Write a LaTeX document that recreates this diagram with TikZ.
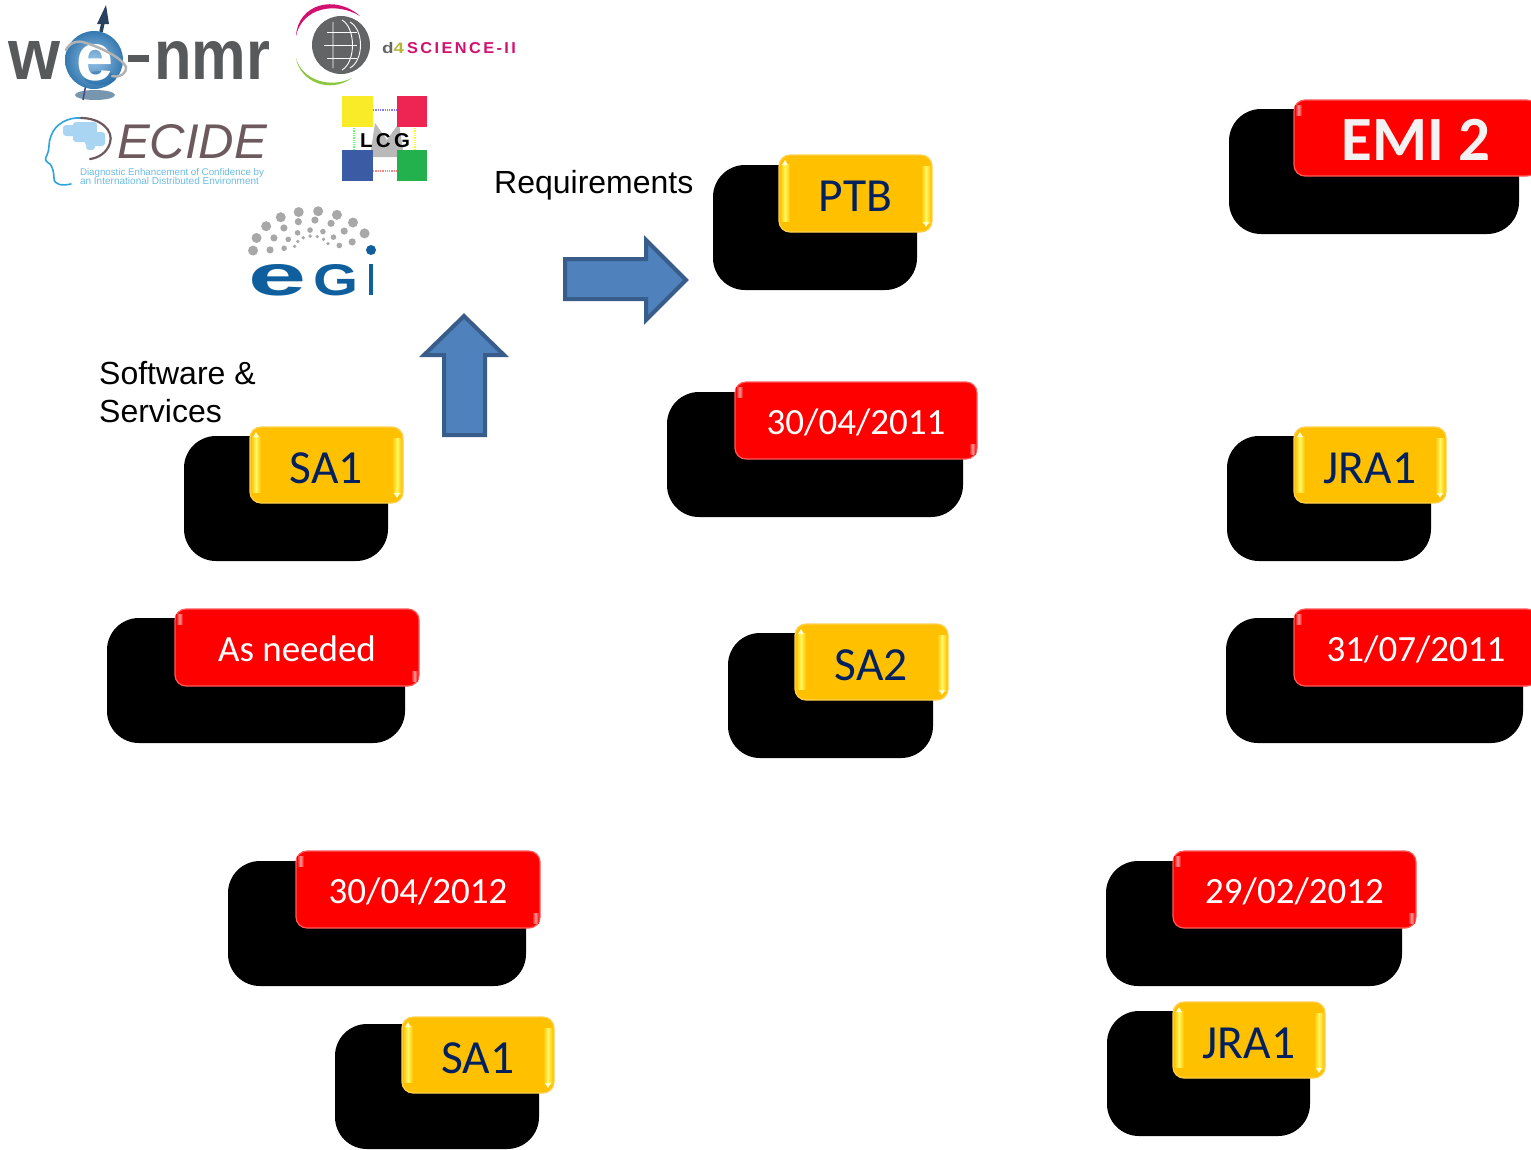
\documentclass[tikz,border=0pt]{standalone}
\usepackage{fontspec}
\usetikzlibrary{calc}
\setmainfont{Liberation Sans}
\newfontfamily\calibrifont{Carlito}
\definecolor{navy}{HTML}{002060}
\definecolor{amber}{HTML}{FFC000}
\definecolor{amberedge}{HTML}{FFD050}
\definecolor{amberglow}{HTML}{FFF860}
\definecolor{redbox}{HTML}{FF0000}
\definecolor{rededge}{HTML}{FF5A5A}
\definecolor{redglow}{HTML}{FF9A9A}
\definecolor{arrowfill}{HTML}{4F81BD}
\definecolor{arrowline}{HTML}{385D8A}
\definecolor{nmrgray}{HTML}{58595B}
\definecolor{globeblue}{HTML}{3F8FD0}
\definecolor{dgray}{HTML}{636466}
\definecolor{dpink}{HTML}{D3106F}
\definecolor{dgreen}{HTML}{8CC63F}
\definecolor{dolive}{HTML}{B5B53A}
\definecolor{brown}{HTML}{6D5A5E}
\definecolor{skyblue}{HTML}{2EA3DC}
\definecolor{smallblue}{HTML}{6CBCE4}
\definecolor{brain}{HTML}{A9D5F2}
\definecolor{egiblue}{HTML}{0F5F9E}
\definecolor{egidot}{HTML}{A8A8A8}
\definecolor{lcgyellow}{HTML}{FAEB28}
\definecolor{lcgred}{HTML}{EE2552}
\definecolor{lcgblue}{HTML}{3B5BA5}
\definecolor{lcggreen}{HTML}{22B14C}
\tikzset{
  shadowbox/.style={rectangle,rounded corners=32pt,fill=black,draw=none,inner sep=0pt,outer sep=0pt},
  amberbox/.style={rectangle,rounded corners=11pt,fill=amber,draw=amberedge,line width=1.2pt,inner sep=0pt,outer sep=0pt,text=navy,text height=36pt,text depth=0pt,font=\calibrifont\fontsize{47.5}{47.5}\selectfont},
  redbadge/.style={rectangle,rounded corners=11pt,fill=redbox,draw=rededge,line width=1.2pt,inner sep=0pt,outer sep=0pt,text=white,text height=27pt,text depth=0pt,font=\calibrifont\fontsize{37}{37}\selectfont},
  caption/.style={inner sep=0pt,anchor=base west,align=left,font=\fontsize{32}{38}\selectfont,text=black},
  blockarrow/.style={fill=arrowfill,draw=arrowline,line width=4pt,miter limit=10},
  logotext/.style={inner sep=0pt,outer sep=0pt,anchor=base west},
  dotlink/.style={densely dotted,line width=1.3pt},
  brainblob/.style={fill=brain,rounded corners=3pt},
  amberstrip/.style={left color=amber,right color=amber,middle color=amberglow},
  redstrip/.style={left color=redbox,right color=redbox,middle color=redglow},
}
\newcommand{\badge}[7]{% name x1 y1 x2 y2 style text
  \pgfmathsetmacro{\bw}{#4-#2}\pgfmathsetmacro{\bh}{#5-#3}%
  \pgfmathsetmacro{\bcx}{(#4+#2)/2}\pgfmathsetmacro{\bcy}{(#5+#3)/2}%
  \node[#6,minimum width=\bw pt,minimum height=\bh pt] (#1) at (\bcx,\bcy) {#7};%
}
\newcommand{\glowamber}[1]{%
  \shade[amberstrip] ([xshift=1pt,yshift=-9pt]#1.north west) rectangle ([xshift=11pt,yshift=11pt]#1.south west);
  \shade[amberstrip] ([xshift=-11pt,yshift=-11pt]#1.north east) rectangle ([xshift=-1pt,yshift=9pt]#1.south east);
  \fill[white!70!amberglow] ([xshift=3pt,yshift=-10pt]#1.north west) -- ([xshift=9pt,yshift=-10pt]#1.north west) -- ([xshift=6pt,yshift=-5pt]#1.north west) -- cycle;
  \fill[white!70!amberglow] ([xshift=-3pt,yshift=10pt]#1.south east) -- ([xshift=-9pt,yshift=10pt]#1.south east) -- ([xshift=-6pt,yshift=5pt]#1.south east) -- cycle;
}
\newcommand{\glowred}[1]{%
  \shade[redstrip] ([xshift=1pt,yshift=-5pt]#1.north west) rectangle ([xshift=8pt,yshift=-15pt]#1.north west);
  \shade[redstrip] ([xshift=-8pt,yshift=15pt]#1.south east) rectangle ([xshift=-1pt,yshift=5pt]#1.south east);
}
\newcommand{\shadowshape}[5]{% name x1 y1 x2 y2
  \pgfmathsetmacro{\sw}{#4-#2}\pgfmathsetmacro{\sh}{#5-#3}%
  \pgfmathsetmacro{\scx}{(#4+#2)/2}\pgfmathsetmacro{\scy}{(#5+#3)/2}%
  \node[shadowbox,minimum width=\sw pt,minimum height=\sh pt] (#1) at (\scx,\scy) {};%
}
\begin{document}
\begin{tikzpicture}[x=1pt,y=-1pt]
\clip (0,0) rectangle (1531,1149);
\fill[white] (0,0) rectangle (1531,1149);

% ---------- we-nmr logo
\fill[egiblue!70!black,opacity=.55] (95,95) ellipse [x radius=20,y radius=5];
\draw[nmrgray!80!blue,line width=1.5pt] (86,84) -- (83,100);
\draw[arrowline!70!black,line width=3.5pt] (101,32) -- (104,18);
\fill[arrowline!70!black] (106,5) -- (109,24) -- (97,24) -- cycle;
\node[logotext,text=nmrgray] (wenmrw) at (9,79) {\resizebox{52pt}{38pt}{\bfseries w}};
\node[logotext,text=nmrgray] (wenmrn) at (128,79) {\raisebox{17pt}{\rule{21pt}{7pt}}\hspace{5pt}\resizebox{116pt}{38pt}{\bfseries nmr}};
\shade[inner color=globeblue!55!white,outer color=globeblue!85!black] (94,60) circle [radius=29];
\fill[egiblue,opacity=.35] (100,78) ellipse [x radius=16,y radius=7];
\node[logotext,text=white] (wenmre) at (76,80) {\resizebox{37pt}{36pt}{\bfseries e}};
\draw[gray!60,line width=2.5pt,line cap=round] (66,50) .. controls (70,42) and (78,40) .. (86,43) .. controls (102,48) and (122,58) .. (126,67) .. controls (127,73) and (120,78) .. (112,76);

% ---------- d4science logo
\fill[dgray] (341,45) circle [radius=29];
\begin{scope}[white,line width=.9pt]
  \draw (327,32) -- (357,32) (324,45) -- (357,45) (327,58) -- (357,58);
  \draw (333,22) -- (333,68) (342,20) .. controls (356,28) and (356,62) .. (342,70);
  \draw (350,22) .. controls (364,30) and (364,60) .. (350,68);
\end{scope}
\fill[dpink] (296,36) .. controls (298,4) and (335,-6) .. (360,16) .. controls (335,1) and (302,8) .. (296,36) -- cycle;
\fill[dgreen] (296,58) .. controls (300,82) and (330,94) .. (352,78) .. controls (330,89) and (302,80) .. (296,58) -- cycle;
\node[logotext] (dsci) at (382,53) {\resizebox{22pt}{11pt}{\textcolor{dgray}{\bfseries d}\textcolor{dolive}{\bfseries 4}}\hspace{3pt}\resizebox{109pt}{11pt}{\addfontfeature{LetterSpace=15}\textcolor{dpink}{\bfseries SCIENCE-II}}};

% ---------- DECIDE logo
\fill[brainblob] (63,125) rectangle (85,136);
\fill[brainblob] (73,122) rectangle (97,142);
\fill[brainblob] (85,132) rectangle (105,146);
\fill[brainblob] (86,144) rectangle (95,150);
\draw[skyblue,line width=1.6pt,line cap=round,line join=round] (71,184) .. controls (62,186) and (54,185) .. (54,178) .. controls (54,172) and (52,166) .. (50,164) .. controls (46,162) and (44,159) .. (47,155) .. controls (50,150) and (48,142) .. (51,136) .. controls (55,124) and (68,117) .. (81,118);
\draw[brown,line width=2.2pt,line cap=round] (81,118) .. controls (100,118) and (114,130) .. (110,143) .. controls (107,153) and (98,158) .. (90,159);
\node[logotext,text=brown] (decide) at (117,158) {\resizebox{150pt}{34pt}{\itshape ECIDE}};
\node[logotext,text=smallblue] (decidea) at (80,175.5) {\resizebox{184pt}{!}{Diagnostic Enhancement of Confidence by}};
\node[logotext,text=smallblue] (decideb) at (80,184) {\resizebox{179pt}{!}{an International Distributed Environment}};

% ---------- LCG logo
\fill[gray!55] (370,157) -- (375,123) -- (387,140) -- (399,123) -- (404,157) -- cycle;
\draw[dotlink,blue!50] (373,110) -- (397,110);
\draw[dotlink,red!50] (373,171) -- (397,171);
\draw[dotlink,green!60] (354,128) -- (354,150);
\draw[dotlink,yellow!80] (415,128) -- (415,150);
\fill[lcgyellow] (342,96) rectangle (373,127);
\fill[lcgred] (397,96) rectangle (427,127);
\fill[lcgblue] (342,150) rectangle (373,181);
\fill[lcggreen] (397,150) rectangle (427,181);
\node[logotext,text=black] (lcg) at (360,147) {\resizebox{50pt}{14pt}{\bfseries L\,C\,G}};

% ---------- EGI logo
\foreach \a in {178,160,141,122,103,84,65,46,27}
  \fill[egidot] ($(312,252)+(-\a:59 and 41)$) circle [radius=5];
\foreach \a in {178,155,132,109,86,63,40,17}
  \fill[egidot] ($(312,251)+(-\a:42 and 31)$) circle [radius=3.6];
\foreach \a in {175,148,121,94,67,40,13}
  \fill[egidot] ($(312,250)+(-\a:28 and 20)$) circle [radius=2.8];
\foreach \a in {165,142,119,96,73,50,27}
  \fill[egidot] ($(312,250)+(-\a:18 and 14)$) circle [radius=1.8];
\fill[egiblue] (371,250) circle [radius=5];
\node[logotext,text=egiblue] (egi) at (248,295) {\resizebox{58pt}{31pt}{\bfseries e}\hspace{7pt}\resizebox{45pt}{31pt}{\bfseries G}\hspace{9pt}\resizebox{8pt}{31pt}{\bfseries ı}};

% ---------- captions
\node[caption] (req) at (494,193) {Requirements};
\node[caption] (sw) at (99,422) {Software \&\\Services};

% ---------- block arrows
\draw[blockarrow] (444,435) -- (444,355) -- (424,355) -- (464,316) -- (504,355) -- (485,355) -- (485,435) -- cycle;
\draw[blockarrow] (565,259) -- (646,259) -- (646,240) -- (686,280) -- (646,320) -- (646,299) -- (565,299) -- cycle;

% ---------- tiles
\shadowshape{emis}{1229}{109}{1519}{234}
\badge{emi}{1294}{100}{1538}{176}{redbadge,font=\calibrifont\bfseries\fontsize{63}{63}\selectfont,text=white!95!black,text height=45pt}{EMI 2}
\glowred{emi}

\shadowshape{ptbs}{713}{165}{917}{290}
\badge{ptb}{779}{155}{932}{232}{amberbox}{PTB}
\glowamber{ptb}

\shadowshape{da1s}{667}{392}{963}{517}
\badge{da1}{735}{382}{977}{459}{redbadge}{30/04/2011}
\glowred{da1}

\shadowshape{jra1s}{1227}{436}{1431}{561}
\badge{jra1}{1294}{427}{1446}{503}{amberbox}{JRA1}
\glowamber{jra1}

\shadowshape{sa1s}{184}{436}{388}{561}
\badge{sa1}{250}{427}{403}{503}{amberbox}{SA1}
\glowamber{sa1}

\shadowshape{asns}{107}{618}{405}{743}
\badge{asn}{175}{609}{419}{686}{redbadge}{As needed}
\glowred{asn}

\shadowshape{sa2s}{728}{633}{933}{758}
\badge{sa2}{795}{624}{948}{700}{amberbox}{SA2}
\glowamber{sa2}

\shadowshape{da2s}{1226}{618}{1523}{743}
\badge{da2}{1294}{609}{1538}{686}{redbadge}{31/07/2011}
\glowred{da2}

\shadowshape{da3s}{228}{861}{526}{986}
\badge{da3}{296}{851}{540}{928}{redbadge}{30/04/2012}
\glowred{da3}

\shadowshape{da4s}{1106}{861}{1402}{986}
\badge{da4}{1173}{851}{1416}{928}{redbadge}{29/02/2012}
\glowred{da4}

\shadowshape{sa3s}{335}{1024}{539}{1149}
\badge{sa3}{402}{1017}{554}{1093}{amberbox}{SA1}
\glowamber{sa3}

\shadowshape{jra2s}{1107}{1011}{1310}{1136}
\badge{jra2}{1173}{1002}{1325}{1078}{amberbox}{JRA1}
\glowamber{jra2}
\end{tikzpicture}
\end{document}
